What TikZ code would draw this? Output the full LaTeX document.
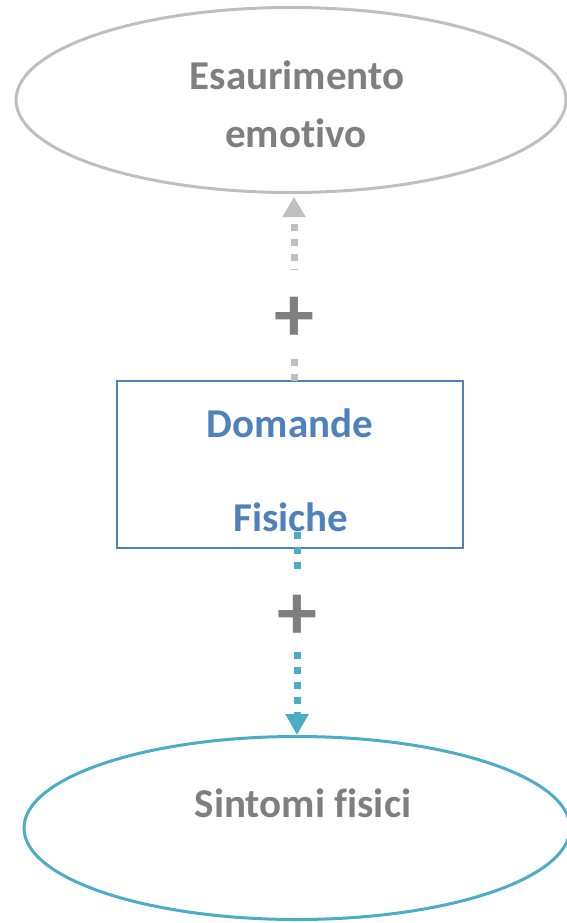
\documentclass[tikz,border=0pt]{standalone}
\usepackage{fontspec}
\setmainfont[Ligatures=NoCommon]{Carlito}
\usetikzlibrary{shapes.geometric,arrows.meta}
\definecolor{grayline}{HTML}{BFBFBF}
\definecolor{graytext}{HTML}{7F7F7F}
\definecolor{boxblue}{HTML}{4F81BD}
\definecolor{tealc}{HTML}{4BACC6}
\begin{document}
\begin{tikzpicture}[x=1pt,y=-1pt,
  lbl/.style={font=\fontsize{41}{45}\selectfont\bfseries, inner sep=0pt},
  plus/.style={font=\fontsize{80}{80}\selectfont\bfseries, text=graytext, fill=white, inner sep=0pt, minimum width=40pt},
  dots/.style={line width=7pt, dash pattern=on 7pt off 8pt}]
\useasboundingbox (0,0) rectangle (567,923);
% shapes
\node[ellipse, draw=grayline, line width=3pt, minimum width=550pt, minimum height=185pt, inner sep=0pt] (emo) at (291,100) {};
\node[draw=boxblue, line width=2pt, minimum width=346pt, minimum height=167pt, inner sep=0pt] (dom) at (290,464.5) {};
\node[ellipse, draw=tealc, line width=3pt, minimum width=546pt, minimum height=183pt, inner sep=0pt] (sin) at (297,828) {};
% texts
\node[lbl, text=graytext] (t1) at (297,75) {Esaurimento};
\node[lbl, text=graytext] (t2) at (296,133) {emotivo};
\node[lbl, text=boxblue] (t3) at (290,423) {Domande};
\node[lbl, text=boxblue] (t4) at (291,517) {Fisiche};
\node[lbl, text=graytext] (t5) at (303,803) {Sintomi fisici};
% connectors
\coordinate (a1) at (294,381);
\coordinate (a2) at (294,197);
\draw[dots, grayline, -{Triangle[width=22pt,length=20pt]}] (a1) -- (a2);
\node[plus, text height=71.5pt, text depth=12.5pt] (p1) at (294,312) {+};
\coordinate (b1) at (297,531.5);
\coordinate (b2) at (297,735);
\draw[dots, tealc, -{Triangle[width=22pt,length=21pt]}] (b1) -- (b2);
\node[plus, text height=67.5pt, text depth=8.5pt] (p2) at (297,610) {+};
\end{tikzpicture}
\end{document}
